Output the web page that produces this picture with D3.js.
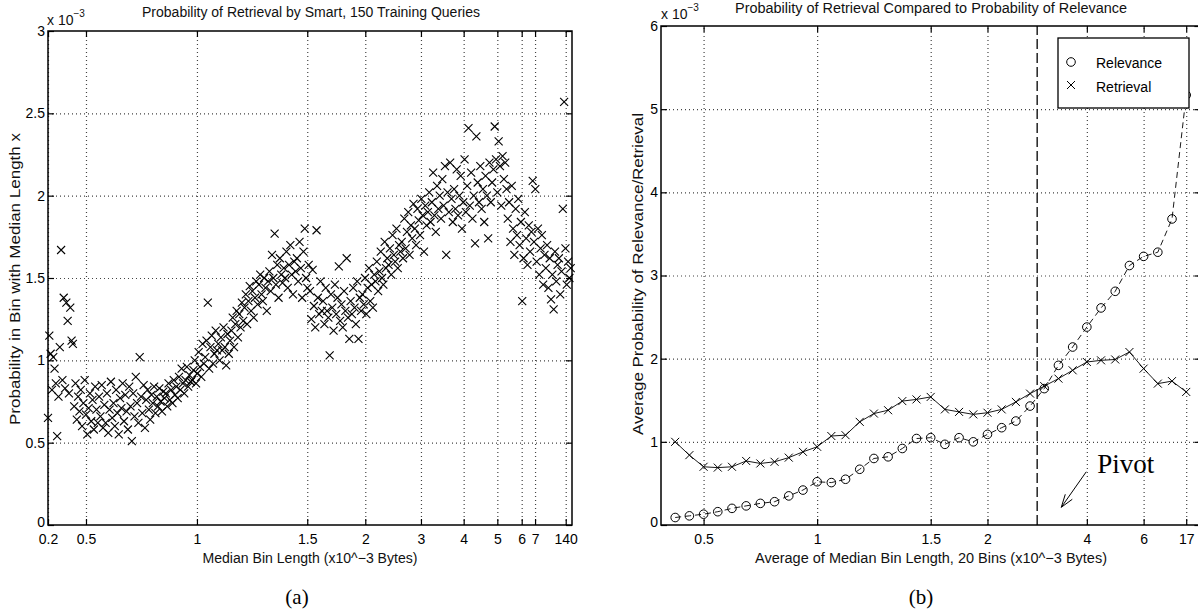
<!DOCTYPE html>
<html>
<head>
<meta charset="utf-8">
<script src="https://cdn.jsdelivr.net/npm/d3@7"></script>
<style>
  body { margin: 0; background: #fff; }
  svg { display: block; font-family: "Liberation Sans", Arial, sans-serif; }
</style>
</head>
<body>
<svg id="chart" width="1198" height="613"></svg>
<script>
// (a) probability of retrieval per bin (x 10^-3), one value per bin, bins sorted by median length
const smartBins = [
  0.65, 1.15, 1.04, 0.82, 1.02, 0.95, 0.86, 0.54, 0.78, 1.08,
  1.67, 0.88, 1.38, 0.83, 1.35, 1.24, 0.80, 1.32, 1.12, 1.10,
  0.72, 0.86, 0.64, 0.78, 0.69, 0.82, 0.60, 0.74, 0.88, 0.67,
  0.55, 0.71, 0.80, 0.63, 0.76, 0.58, 0.84, 0.70, 0.62, 0.78,
  0.66, 0.85, 0.59, 0.73, 0.62, 0.80, 0.56, 0.70, 0.87, 0.65,
  0.74, 0.60, 0.82, 0.68, 0.55, 0.77, 0.71, 0.86, 0.63, 0.79,
  0.69, 0.58, 0.84, 0.72, 0.51, 0.80, 0.66, 0.90, 0.74, 0.62,
  1.02, 0.78, 0.68, 0.85, 0.59, 0.76, 0.82, 0.70, 0.64, 0.79,
  0.74, 0.84, 0.68, 0.78, 0.72, 0.83, 0.75, 0.69, 0.81, 0.77,
  0.80, 0.72, 0.86, 0.76, 0.82, 0.74, 0.88, 0.79, 0.84, 0.77,
  0.90, 0.82, 0.95, 0.86, 0.80, 0.88, 0.96, 0.84, 0.91, 0.87,
  0.88, 0.94, 1.00, 0.86, 0.92, 1.05, 0.96, 0.90, 1.10, 0.98,
  1.02, 1.12, 1.35, 0.95, 1.08, 1.15, 0.98, 1.04, 1.18, 1.06,
  1.10, 1.00, 1.14, 1.06, 1.20, 1.08, 0.97, 1.16, 1.04, 1.12,
  1.18, 1.26, 1.08, 1.22, 1.30, 1.14, 1.28, 1.20, 1.35, 1.24,
  1.32, 1.40, 1.22, 1.36, 1.45, 1.30, 1.42, 1.26, 1.38, 1.48,
  1.34, 1.46, 1.52, 1.40, 1.36, 1.50, 1.44, 1.30, 1.48, 1.54,
  1.42, 1.64, 1.50, 1.77, 1.46, 1.58, 1.38, 1.62, 1.52, 1.47,
  1.56, 1.50, 1.66, 1.44, 1.58, 1.70, 1.52, 1.40, 1.60, 1.54,
  1.62, 1.48, 1.72, 1.56, 1.38, 1.66, 1.80, 1.50, 1.44, 1.58,
  1.42, 1.25, 1.55, 1.33, 1.20, 1.79, 1.38, 1.28, 1.48, 1.30,
  1.36, 1.22, 1.44, 1.30, 1.26, 1.03, 1.40, 1.32, 1.18, 1.46,
  1.28, 1.38, 1.57, 1.24, 1.34, 1.20, 1.42, 1.30, 1.62, 1.26,
  1.13, 1.36, 1.28, 1.44, 1.32, 1.22, 1.48, 1.13, 1.38, 1.30,
  1.40, 1.34, 1.50, 1.28, 1.44, 1.56, 1.36, 1.46, 1.32, 1.52,
  1.48, 1.60, 1.42, 1.54, 1.66, 1.50, 1.46, 1.72, 1.56, 1.62,
  1.58, 1.68, 1.52, 1.76, 1.64, 1.60, 1.80, 1.56, 1.70, 1.66,
  1.72, 1.62, 1.86, 1.68, 1.78, 1.90, 1.64, 1.82, 1.74, 1.95,
  1.80, 1.70, 1.92, 1.85, 1.76, 1.98, 1.88, 1.66, 1.94, 1.82,
  1.90, 2.02, 1.84, 1.96, 2.14, 1.88, 1.78, 2.06, 1.92, 2.00,
  1.86, 2.10, 1.94, 2.18, 1.64, 2.02, 1.90, 2.20, 1.98, 1.84,
  2.04, 1.92, 2.16, 1.88, 2.00, 2.12, 1.80, 1.96, 2.22, 1.90,
  2.06, 2.41, 1.94, 2.14, 1.86, 2.00, 1.71, 2.36, 2.08, 1.96,
  2.18, 1.92, 2.04, 1.84, 2.12, 2.00, 1.74, 2.20, 1.96, 2.08,
  2.16, 2.42, 2.22, 2.02, 2.33, 2.18, 1.94, 2.24, 2.10, 2.20,
  2.04, 1.86, 1.96, 1.72, 2.06, 1.80, 1.64, 1.92, 1.76, 1.98,
  1.70, 1.84, 1.36, 1.62, 1.90, 1.74, 1.58, 1.82, 1.66, 1.78,
  2.09, 1.72, 2.04, 1.60, 1.80, 1.52, 1.68, 1.76, 1.46, 1.64,
  1.56, 1.70, 1.44, 1.62, 1.37, 1.52, 1.31, 1.66, 1.48, 1.58,
  1.62, 1.40, 1.54, 1.92, 2.57, 1.68, 1.46, 1.60, 1.50, 1.56
];
const smartTickBins = [0, 29, 113.7, 197.9, 242.2, 284.7, 317.3, 343, 361.6, 371.8, 395.2];
const smartTickLabels = ["0.2", "0.5", "1", "1.5", "2", "3", "4", "5", "6", "7", "140"];
const smartYTicks = [0, 0.5, 1, 1.5, 2, 2.5, 3];

// (b) average probability per bin group (x 10^-3)
const relevance = [
  0.09, 0.11, 0.13, 0.16, 0.20, 0.23, 0.26, 0.28, 0.35, 0.42,
  0.52, 0.51, 0.55, 0.67, 0.80, 0.82, 0.92, 1.04, 1.05, 0.97,
  1.05, 1.00, 1.09, 1.17, 1.25, 1.43, 1.64, 1.92, 2.14, 2.38,
  2.61, 2.81, 3.12, 3.23, 3.28, 3.68, 5.17
];
const retrieval = [
  1.00, 0.84, 0.70, 0.69, 0.70, 0.77, 0.74, 0.76, 0.81, 0.88,
  0.94, 1.07, 1.08, 1.24, 1.34, 1.38, 1.49, 1.51, 1.54, 1.39,
  1.36, 1.33, 1.35, 1.39, 1.48, 1.58, 1.67, 1.76, 1.86, 1.96,
  1.98, 1.99, 2.08, 1.88, 1.70, 1.73, 1.60
];
const avgTickBins = [2, 10, 18, 22, 29, 33, 36];
const avgTickLabels = ["0.5", "1", "1.5", "2", "4", "6", "17"];
const avgYTicks = [0, 1, 2, 3, 4, 5, 6];
const pivotBin = 25.5;

const svg = d3.select("#chart");
const sans = "'Liberation Sans', Arial, sans-serif";
const serif = "'Liberation Serif', 'Times New Roman', serif";

// path for an "x" marker
function xMark(r) {
  return `M${-r},${-r}L${r},${r}M${-r},${r}L${r},${-r}`;
}

// grid, ticks on all four sides, box
function drawAxes(g, x, y, xTicks, xLabels, yTicks) {
  const [x0, x1] = x.range();
  const [y0, y1] = y.range();

  g.append("g")
    .attr("transform", `translate(0,${y0})`)
    .call(d3.axisBottom(x).tickValues(xTicks).tickSize(-(y0 - y1)).tickFormat(""))
    .call((a) => a.select(".domain").remove())
    .selectAll("line")
    .attr("stroke", "#444")
    .attr("stroke-dasharray", "1,3");

  g.append("g")
    .attr("transform", `translate(${x0},0)`)
    .call(d3.axisLeft(y).tickValues(yTicks.slice(1, -1)).tickSize(-(x1 - x0)).tickFormat(""))
    .call((a) => a.select(".domain").remove())
    .selectAll("line")
    .attr("stroke", "#444")
    .attr("stroke-dasharray", "1,3");

  const bottom = g.append("g")
    .attr("transform", `translate(0,${y0})`)
    .call(d3.axisBottom(x).tickValues(xTicks).tickSize(-6).tickPadding(9)
      .tickFormat((d, i) => xLabels[i]));
  g.append("g")
    .attr("transform", `translate(0,${y1})`)
    .call(d3.axisTop(x).tickValues(xTicks).tickSize(-6).tickFormat(""));
  const left = g.append("g")
    .attr("transform", `translate(${x0},0)`)
    .call(d3.axisLeft(y).tickValues(yTicks).tickSize(-6).tickPadding(3)
      .tickFormat(d3.format("~g")));
  g.append("g")
    .attr("transform", `translate(${x1},0)`)
    .call(d3.axisRight(y).tickValues(yTicks).tickSize(-6).tickFormat(""));

  g.selectAll(".domain").remove();
  g.selectAll(".tick line").attr("stroke-width", 1.2);
  [bottom, left].forEach((a) =>
    a.attr("font-size", 14).attr("font-family", sans).selectAll("text").attr("fill", "#000"));
  // the zero label sits a little higher, clear of the first x label
  left.selectAll("text").filter((d) => d === 0).attr("dy", "0.1em");

  g.append("rect")
    .attr("x", x0)
    .attr("y", y1)
    .attr("width", x1 - x0)
    .attr("height", y0 - y1)
    .attr("fill", "none")
    .attr("stroke", "#000")
    .attr("stroke-width", 1.5);
}

function label(g, txt, x, y, size, len, rotate) {
  const t = g.append("text")
    .attr("text-anchor", "middle")
    .attr("font-size", size)
    .attr("font-family", sans)
    .attr("fill", "#111")
    .text(txt);
  if (len) t.attr("textLength", len).attr("lengthAdjust", "spacingAndGlyphs");
  if (rotate) t.attr("transform", `translate(${x},${y}) rotate(-90)`);
  else t.attr("x", x).attr("y", y);
  return t;
}

function exponent(g, x, y) {
  const t = g.append("text")
    .attr("x", x)
    .attr("y", y)
    .attr("font-size", 14)
    .attr("font-family", sans)
    .attr("fill", "#111");
  t.append("tspan").text("x 10");
  t.append("tspan").attr("dy", -8).attr("font-size", 10).text("\u22123");
}

// ---------- panel (a) ----------
const ga = svg.append("g");
const xa = d3.scaleLinear().domain([0, 400]).range([48, 572]);
const ya = d3.scaleLinear().domain([0, 3]).range([525, 31]);

drawAxes(ga, xa, ya, smartTickBins, smartTickLabels, smartYTicks);

ga.append("g")
  .selectAll("path")
  .data(smartBins)
  .join("path")
  .attr("transform", (d, i) => `translate(${xa(i)},${ya(d)})`)
  .attr("d", xMark(4))
  .attr("fill", "none")
  .attr("stroke", "#000")
  .attr("stroke-width", 1.1);

label(ga, "Probability of Retrieval by Smart, 150 Training Queries", 311, 17, 14, 338);
label(ga, "Median Bin Length (x10^\u22123 Bytes)", 310, 563, 14, 215);
label(ga, "Probability in Bin with Median Length x", 20, 279, 15, 292, true);
exponent(ga, 47, 25);
ga.append("text")
  .attr("x", 297)
  .attr("y", 604)
  .attr("text-anchor", "middle")
  .attr("font-family", serif)
  .attr("font-size", 21)
  .text("(a)");

// ---------- panel (b) ----------
const gb = svg.append("g");
const xb = d3.scaleLinear().domain([-1, 37]).range([661, 1200.4]);
const yb = d3.scaleLinear().domain([0, 6]).range([525, 26]);

drawAxes(gb, xb, yb, avgTickBins, avgTickLabels, avgYTicks);

// pivot line
gb.append("line")
  .attr("x1", xb(pivotBin))
  .attr("x2", xb(pivotBin))
  .attr("y1", yb(0))
  .attr("y2", yb(6))
  .attr("stroke", "#000")
  .attr("stroke-width", 1.3)
  .attr("stroke-dasharray", "10,4");

const line = d3.line()
  .x((d, i) => xb(i))
  .y((d) => yb(d));

gb.append("path")
  .datum(relevance)
  .attr("d", line)
  .attr("fill", "none")
  .attr("stroke", "#000")
  .attr("stroke-width", 0.9)
  .attr("stroke-dasharray", "6,4");

gb.append("path")
  .datum(retrieval)
  .attr("d", line)
  .attr("fill", "none")
  .attr("stroke", "#000")
  .attr("stroke-width", 0.9);

gb.append("g")
  .selectAll("circle")
  .data(relevance)
  .join("circle")
  .attr("cx", (d, i) => xb(i))
  .attr("cy", (d) => yb(d))
  .attr("r", 4.3)
  .attr("fill", "none")
  .attr("stroke", "#000")
  .attr("stroke-width", 1);

gb.append("g")
  .selectAll("path")
  .data(retrieval)
  .join("path")
  .attr("transform", (d, i) => `translate(${xb(i)},${yb(d)})`)
  .attr("d", xMark(4))
  .attr("fill", "none")
  .attr("stroke", "#000")
  .attr("stroke-width", 1);

// legend
const leg = gb.append("g");
leg.append("rect")
  .attr("x", 1058)
  .attr("y", 38)
  .attr("width", 131)
  .attr("height", 70)
  .attr("fill", "#fff")
  .attr("stroke", "#000")
  .attr("stroke-width", 1.3);
leg.append("circle")
  .attr("cx", 1071)
  .attr("cy", 62)
  .attr("r", 4.3)
  .attr("fill", "none")
  .attr("stroke", "#000");
leg.append("path")
  .attr("transform", "translate(1071,85)")
  .attr("d", xMark(4))
  .attr("stroke", "#000");
leg.append("text").attr("x", 1096).attr("y", 68).attr("font-size", 14)
  .attr("font-family", sans).text("Relevance");
leg.append("text").attr("x", 1096).attr("y", 91.5).attr("font-size", 14)
  .attr("font-family", sans).text("Retrieval");

// pivot annotation
const arrowFrom = [28.96, 0.64];
const arrowTo = [27.2, 0.213];
gb.append("line")
  .attr("x1", xb(arrowFrom[0]))
  .attr("y1", yb(arrowFrom[1]))
  .attr("x2", xb(arrowTo[0]))
  .attr("y2", yb(arrowTo[1]))
  .attr("stroke", "#000");
gb.append("path")
  .attr("d", `M${xb(arrowTo[0]) + 4},${yb(arrowTo[1]) - 13}L${xb(arrowTo[0])},${yb(arrowTo[1])}L${xb(arrowTo[0]) + 11},${yb(arrowTo[1]) - 8}`)
  .attr("fill", "none")
  .attr("stroke", "#000");
gb.append("text")
  .attr("x", xb(29.74))
  .attr("y", yb(0.63))
  .attr("font-family", serif)
  .attr("font-size", 27)
  .text("Pivot");

label(gb, "Probability of Retrieval Compared to Probability of Relevance", 931, 12.5, 14, 392);
label(gb, "Average of Median Bin Length, 20 Bins (x10^\u22123 Bytes)", 931, 563, 14, 352);
label(gb, "Average Probability of Relevance/Retrieval", 643, 274, 15, 322, true);
exponent(gb, 661, 19);
gb.append("text")
  .attr("x", 921)
  .attr("y", 604)
  .attr("text-anchor", "middle")
  .attr("font-family", serif)
  .attr("font-size", 21)
  .text("(b)");
</script>
</body>
</html>
